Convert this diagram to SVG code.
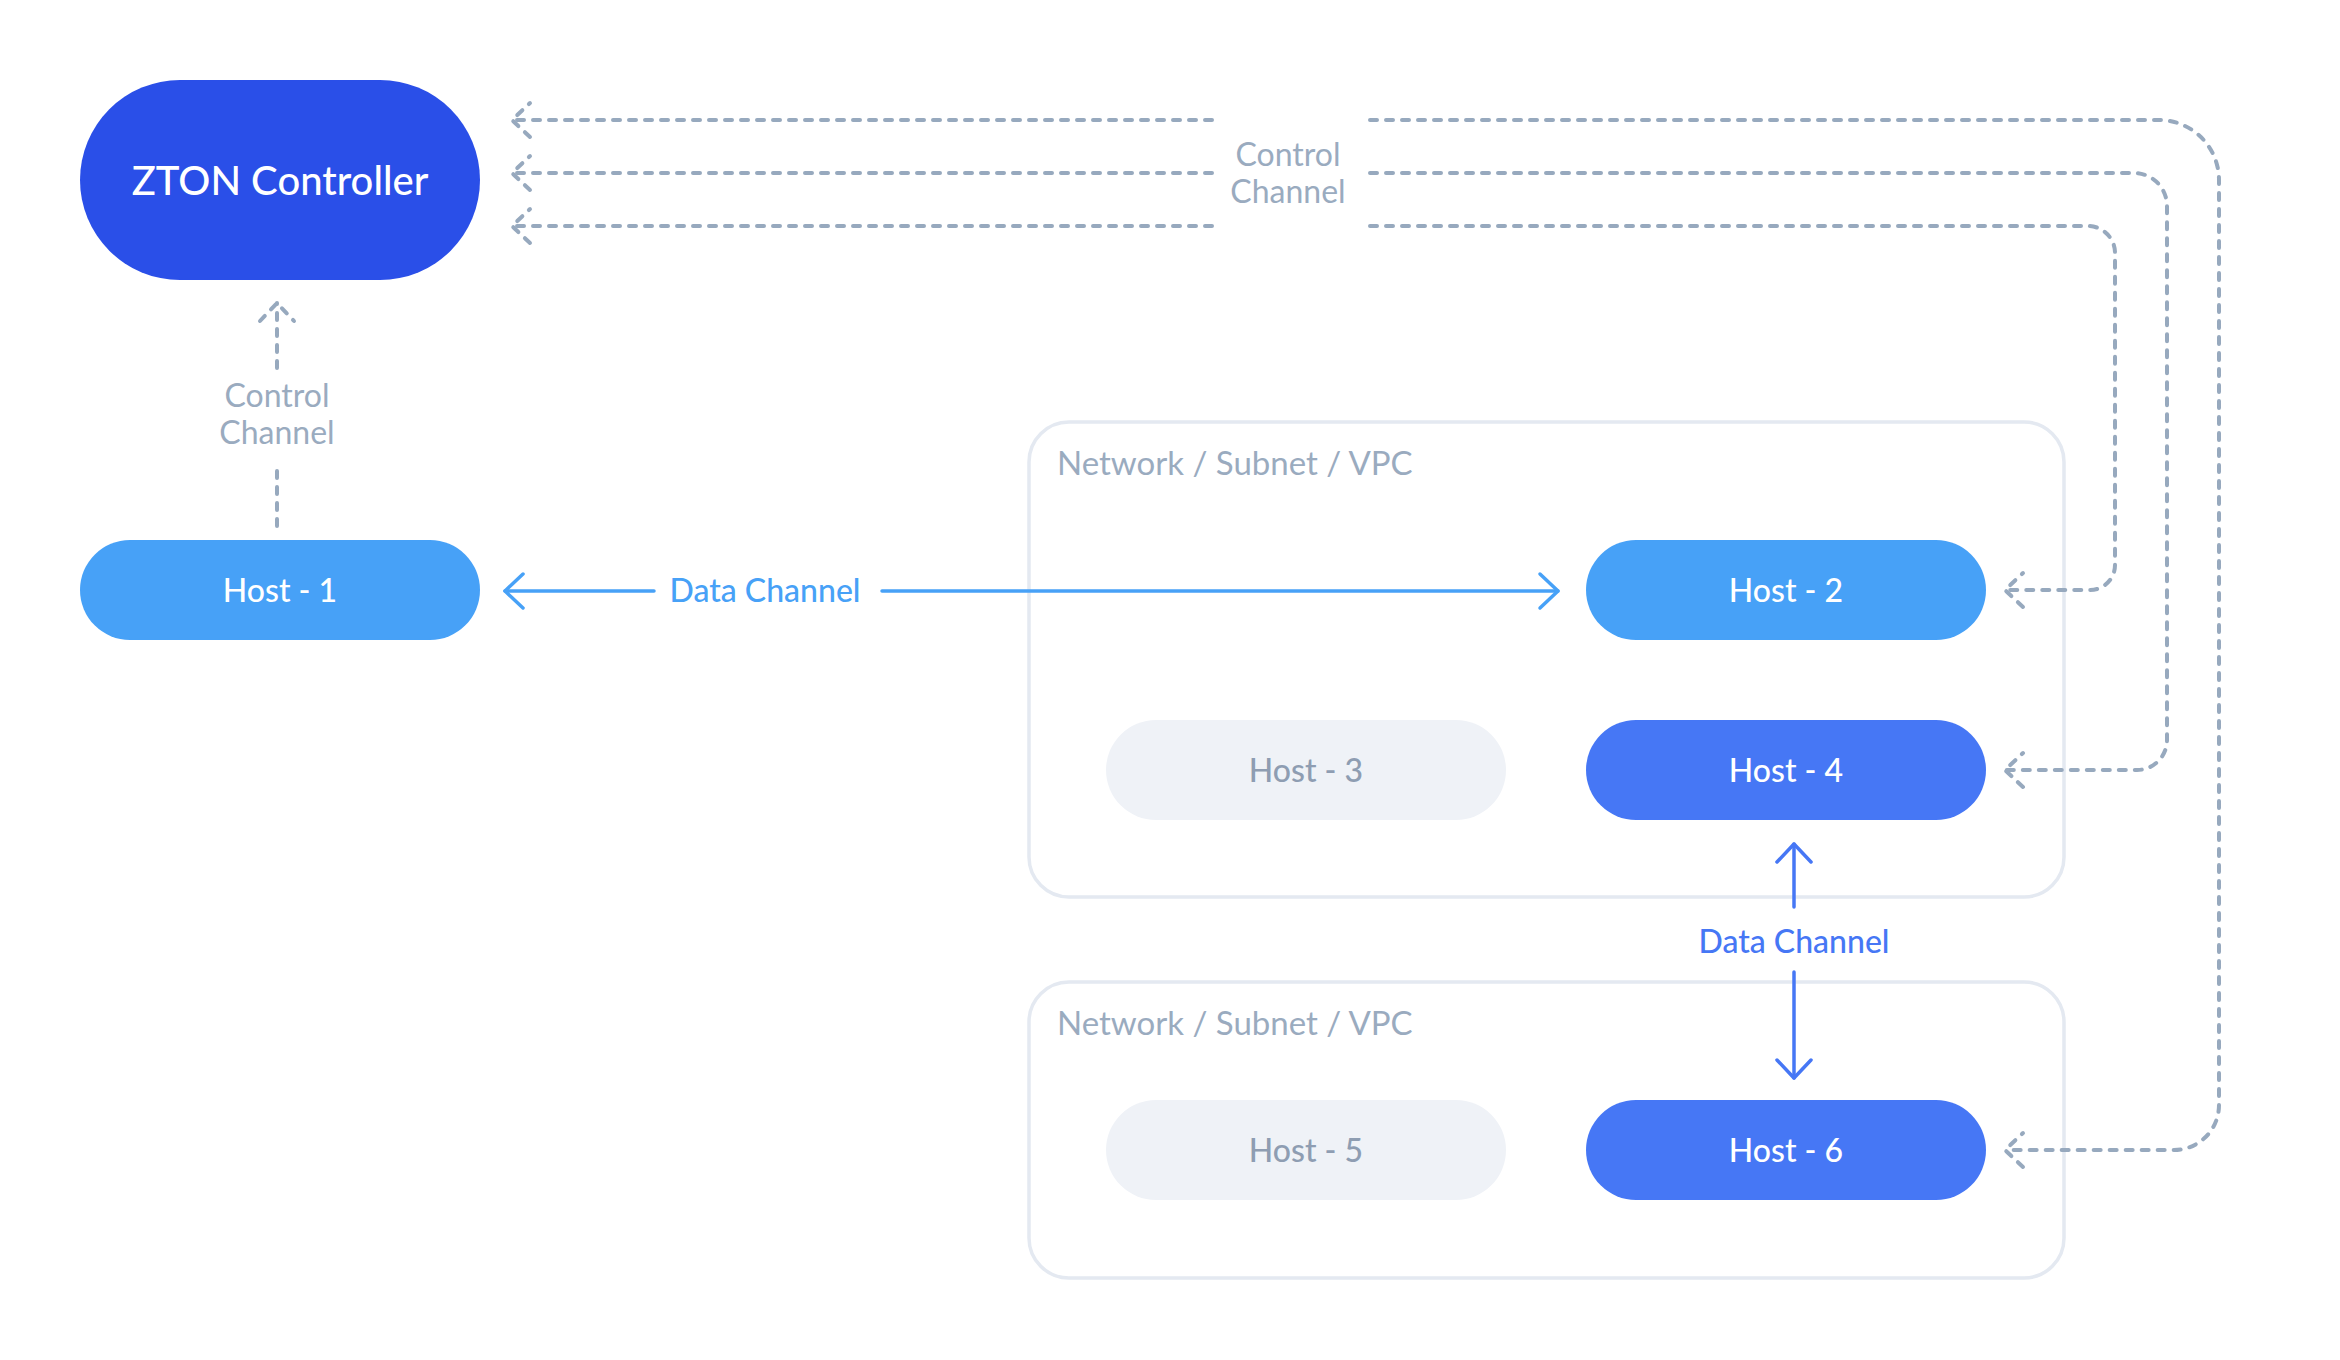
<svg xmlns="http://www.w3.org/2000/svg" width="2340" height="1360" viewBox="0 0 2340 1360">
<style>
  text { font-family: "Lato", "Liberation Sans", sans-serif; }
  .ctrl { fill: none; stroke: #97A9BE; stroke-width: 4; stroke-dasharray: 7 9; stroke-linecap: round; stroke-linejoin: round; }
  .data1 { fill: none; stroke: #47A1F7; stroke-width: 3.5; stroke-linecap: round; stroke-linejoin: round; }
  .data2 { fill: none; stroke: #4677F5; stroke-width: 3.5; stroke-linecap: round; stroke-linejoin: round; }
  .net { fill: #FFFFFF; stroke: #E4E9F1; stroke-width: 3.5; }
  .netlabel { fill: #9AABBF; font-size: 33px; }
  .hosttext { font-size: 32px; font-weight: 500; text-anchor: middle; }
  .white { fill: #FFFFFF; }
  .greytext { fill: #8E9DB2; }
  .lbl { font-size: 32px; text-anchor: middle; }
  .ctrllbl { fill: #9AABBF; }
</style>
<defs>
  <marker id="arrCtrl" markerUnits="userSpaceOnUse" viewBox="-25 -25 50 50" markerWidth="50" markerHeight="50" refX="0" refY="0" orient="auto" overflow="visible">
    <path d="M -18 -17 L 0 0 L -18 17" fill="none" stroke="#97A9BE" stroke-width="4" stroke-dasharray="7 9" stroke-linecap="round"/>
  </marker>
  <marker id="arrData1" markerUnits="userSpaceOnUse" viewBox="-25 -25 50 50" markerWidth="50" markerHeight="50" refX="0" refY="0" orient="auto" overflow="visible">
    <path d="M -18 -17 L 0 0 L -18 17" fill="none" stroke="#47A1F7" stroke-width="3.5" stroke-linecap="round" stroke-linejoin="round"/>
  </marker>
  <marker id="arrData2" markerUnits="userSpaceOnUse" viewBox="-25 -25 50 50" markerWidth="50" markerHeight="50" refX="0" refY="0" orient="auto" overflow="visible">
    <path d="M -18 -17 L 0 0 L -18 17" fill="none" stroke="#4677F5" stroke-width="3.5" stroke-linecap="round" stroke-linejoin="round"/>
  </marker>
</defs>
<rect x="0" y="0" width="2340" height="1360" fill="#FFFFFF"/>

<g id="network-1">
  <rect class="net" x="1029" y="422" width="1035" height="475" rx="40"/>
  <text class="netlabel" x="1057" y="475">Network / Subnet / VPC</text>
</g>
<g id="network-2">
  <rect class="net" x="1029" y="982" width="1035" height="296" rx="40"/>
  <text class="netlabel" x="1057" y="1035">Network / Subnet / VPC</text>
</g>

<g id="connectors">
  <path class="ctrl" d="M 1212 120 H 512" marker-end="url(#arrCtrl)"/>
  <path class="ctrl" d="M 1212 173 H 512" marker-end="url(#arrCtrl)"/>
  <path class="ctrl" d="M 1212 226 H 512" marker-end="url(#arrCtrl)"/>
  <path class="ctrl" d="M 1370 120 H 2159 A 60 60 0 0 1 2219 180 V 1105 A 45 45 0 0 1 2174 1150 H 2005" marker-end="url(#arrCtrl)"/>
  <path class="ctrl" d="M 1370 173 H 2134 A 33 33 0 0 1 2167 206 V 740 A 30 30 0 0 1 2137 770 H 2005" marker-end="url(#arrCtrl)"/>
  <path class="ctrl" d="M 1370 226 H 2088 A 27 27 0 0 1 2115 253 V 565 A 25 25 0 0 1 2090 590 H 2005" marker-end="url(#arrCtrl)"/>
  <text class="lbl ctrllbl" x="1288" y="166">Control</text>
  <text class="lbl ctrllbl" x="1288" y="203">Channel</text>
  <path class="ctrl" d="M 277 526 V 463"/>
  <path class="ctrl" d="M 277 368 V 303" marker-end="url(#arrCtrl)"/>
  <text class="lbl ctrllbl" x="277" y="407">Control</text>
  <text class="lbl ctrllbl" x="277" y="444">Channel</text>
  <path class="data1" d="M 654 591 H 505" marker-end="url(#arrData1)"/>
  <path class="data1" d="M 882 591 H 1558" marker-end="url(#arrData1)"/>
  <text class="lbl" x="765" y="602" fill="#47A1F7" font-weight="500">Data Channel</text>
  <path class="data2" d="M 1794 907 V 844" marker-end="url(#arrData2)"/>
  <path class="data2" d="M 1794 972 V 1078" marker-end="url(#arrData2)"/>
  <text class="lbl" x="1794" y="953" fill="#4677F5" font-weight="500">Data Channel</text>
</g>

<g id="zton-controller">
  <rect x="80" y="80" width="400" height="200" rx="100" fill="#2A4FE8"/>
  <text x="280" y="195" font-size="40" font-weight="500" text-anchor="middle" fill="#FFFFFF">ZTON Controller</text>
</g>
<g id="host-1">
  <rect x="80" y="540" width="400" height="100" rx="50" fill="#47A1F7"/>
  <text class="hosttext white" x="280" y="602">Host - 1</text>
</g>
<g id="host-2">
  <rect x="1586" y="540" width="400" height="100" rx="50" fill="#47A1F7"/>
  <text class="hosttext white" x="1786" y="602">Host - 2</text>
</g>
<g id="host-3">
  <rect x="1106" y="720" width="400" height="100" rx="50" fill="#EFF2F7"/>
  <text class="hosttext greytext" x="1306" y="782">Host - 3</text>
</g>
<g id="host-4">
  <rect x="1586" y="720" width="400" height="100" rx="50" fill="#4677F5"/>
  <text class="hosttext white" x="1786" y="782">Host - 4</text>
</g>
<g id="host-5">
  <rect x="1106" y="1100" width="400" height="100" rx="50" fill="#EFF2F7"/>
  <text class="hosttext greytext" x="1306" y="1162">Host - 5</text>
</g>
<g id="host-6">
  <rect x="1586" y="1100" width="400" height="100" rx="50" fill="#4677F5"/>
  <text class="hosttext white" x="1786" y="1162">Host - 6</text>
</g>
</svg>
